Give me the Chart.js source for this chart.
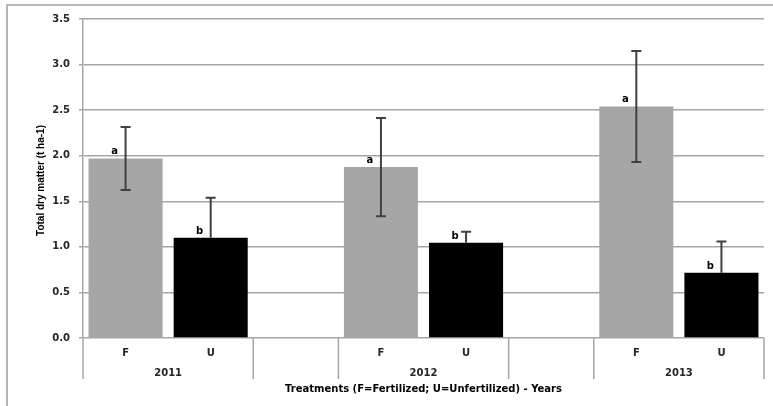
<!DOCTYPE html>
<html>
<head>
<meta charset="utf-8">
<script src="https://cdn.jsdelivr.net/npm/chart.js@4.4.1/dist/chart.umd.min.js"></script>
<style>
html,body{margin:0;padding:0;background:#fff;}
canvas{display:block;}
</style>
</head>
<body>
<canvas id="c" width="773" height="406"></canvas>
<script>
// ---- data ----
const years = ['2011', '2012', '2013'];
const treatments = ['F', 'U'];
const fertilized = [1.97, 1.875, 2.54];
const unfertilized = [1.10, 1.045, 0.715];
const fertilizedErr = [0.345, 0.54, 0.61];
const unfertilizedErr = [0.44, 0.12, 0.345];
const fertilizedLetters = ['a', 'a', 'a'];
const unfertilizedLetters = ['b', 'b', 'b'];
const yTicks = [0, 0.5, 1.0, 1.5, 2.0, 2.5, 3.0, 3.5];
const xTitle = 'Treatments (F=Fertilized; U=Unfertilized) - Years';
const yTitle = 'Total dry matter (t ha-1)';

// ---- build category slots: F, U, (gap), F, U, (gap), F, U ----
const labels = [], values = [], errs = [], letters = [], colors = [], yearOfSlot = [], isU = [];
years.forEach((yr, i) => {
  if (i > 0) { labels.push(''); values.push(null); errs.push(null); letters.push(''); colors.push('#fff'); yearOfSlot.push(null); isU.push(false); }
  labels.push(treatments[0]); values.push(fertilized[i]); errs.push(fertilizedErr[i]); letters.push(fertilizedLetters[i]); colors.push('#a6a6a6'); yearOfSlot.push(i); isU.push(false);
  labels.push(treatments[1]); values.push(unfertilized[i]); errs.push(unfertilizedErr[i]); letters.push(unfertilizedLetters[i]); colors.push('#000000'); yearOfSlot.push(i); isU.push(true);
});

const GRID = '#a6a6a6';
const TXT = '#262626';
const FONT = 'DejaVu Sans';

const decorPlugin = {
  id: 'decor',
  afterDatasetsDraw(chart) {
    const ctx = chart.ctx;
    const y = chart.scales.y;
    const meta = chart.getDatasetMeta(0);
    ctx.save();
    // error bars (the lower half on black bars is hidden by the black fill)
    values.forEach((v, i) => {
      if (v == null) return;
      const cx = meta.data[i].x;
      const yt = y.getPixelForValue(v + errs[i]);
      const yb = y.getPixelForValue(v - errs[i]);
      const ym = y.getPixelForValue(v);
      ctx.lineWidth = 2;
      ctx.strokeStyle = '#404040';
      ctx.beginPath();
      ctx.moveTo(cx, yt); ctx.lineTo(cx, isU[i] ? ym : yb);
      ctx.moveTo(cx - 5, yt); ctx.lineTo(cx + 5, yt);
      if (!isU[i]) { ctx.moveTo(cx - 5, yb); ctx.lineTo(cx + 5, yb); }
      ctx.stroke();
    });
    // significance letters
    ctx.fillStyle = '#000';
    ctx.font = 'bold 10px "' + FONT + '"';
    ctx.textAlign = 'center';
    ctx.textBaseline = 'alphabetic';
    values.forEach((v, i) => {
      if (v == null) return;
      const el = meta.data[i];
      ctx.fillText(letters[i], el.x - 11, el.y - 4);
    });
    ctx.restore();
  },
  afterDraw(chart) {
    const ctx = chart.ctx;
    const x = chart.scales.x;
    const ca = chart.chartArea;
    ctx.save();
    // outer frame
    ctx.strokeStyle = '#a0a0a0';
    ctx.lineWidth = 1.5;
    ctx.strokeRect(7, 5, 820, 460);
    // category divider ticks
    ctx.strokeStyle = GRID;
    ctx.lineWidth = 1.5;
    const half = (x.getPixelForValue(1) - x.getPixelForValue(0)) / 2;
    const bounds = [];
    years.forEach((yr, i) => {
      const iF = yearOfSlot.indexOf(i);
      const iU = yearOfSlot.lastIndexOf(i);
      bounds.push(x.getPixelForValue(iF) - half, x.getPixelForValue(iU) + half);
    });
    bounds.forEach(bx => {
      ctx.beginPath();
      ctx.moveTo(bx, ca.bottom);
      ctx.lineTo(bx, ca.bottom + 41);
      ctx.stroke();
    });
    // year labels
    ctx.fillStyle = TXT;
    ctx.font = 'bold 10px "' + FONT + '"';
    ctx.textAlign = 'center';
    ctx.textBaseline = 'middle';
    years.forEach((yr, i) => {
      const iF = yearOfSlot.indexOf(i);
      const iU = yearOfSlot.lastIndexOf(i);
      const cx = (x.getPixelForValue(iF) + x.getPixelForValue(iU)) / 2;
      ctx.fillText(yr, cx, ca.bottom + 35);
    });
    // x title
    ctx.fillStyle = '#000';
    ctx.font = 'bold 10px "' + FONT + '"';
    ctx.fillText(xTitle, (ca.left + ca.right) / 2, ca.bottom + 51);
    // y title
    ctx.translate(41, (ca.top + ca.bottom) / 2 + 2);
    ctx.rotate(-Math.PI / 2);
    ctx.font = 'bold 10px "Liberation Sans"';
    ctx.fillText(yTitle, 0, 0);
    ctx.restore();
  }
};

new Chart(document.getElementById('c'), {
  type: 'bar',
  data: {
    labels: labels,
    datasets: [{
      data: values,
      backgroundColor: colors,
      borderWidth: 0,
      barPercentage: 0.87,
      categoryPercentage: 1.0
    }]
  },
  options: {
    responsive: false,
    animation: false,
    layout: { padding: { top: 19, right: 9, left: 0, bottom: 0 } },
    plugins: { legend: { display: false }, tooltip: { enabled: false } },
    scales: {
      x: {
        grid: { display: false, drawTicks: false },
        border: { display: false },
        ticks: {
          color: TXT,
          font: { family: FONT, size: 10, weight: 'bold' },
          padding: 9,
          maxRotation: 0,
          autoSkip: false
        },
        afterFit(scale) { scale.height = 68; }
      },
      y: {
        min: 0,
        max: 3.5,
        afterBuildTicks(scale) { scale.ticks = yTicks.map(v => ({ value: v })); },
        grid: { color: GRID, lineWidth: 1.5, tickLength: 4 },
        border: { color: GRID, width: 1.5 },
        ticks: {
          color: TXT,
          font: { family: FONT, size: 10, weight: 'bold' },
          padding: 9,
          callback: v => Number(v).toFixed(1)
        },
        afterFit(scale) { scale.width = 83; }
      }
    }
  },
  plugins: [decorPlugin]
});
</script>
</body>
</html>
